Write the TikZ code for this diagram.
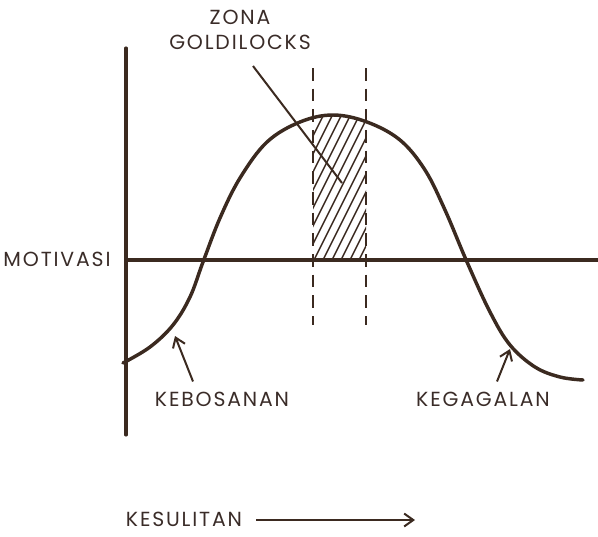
\documentclass[tikz,border=0pt]{standalone}
\usepackage{fontspec}
\setmainfont[LetterSpace=9]{Poppins}
\usepackage{tikz}
\usetikzlibrary{positioning,arrows.meta,calc}
\definecolor{ink}{HTML}{3B2A20}
\definecolor{inktext}{HTML}{3A2C28}

\begin{document}
\begin{tikzpicture}[x=0.75pt,y=-0.75pt,
  axis/.style={draw=ink,line width=2.3pt,line cap=round},
  curve/.style={draw=ink,line width=2.6pt,line cap=round},
  zone/.style={draw=ink,line width=1.8pt,dash pattern=on 9.5pt off 6pt},
  hatch/.style={draw=ink,line width=1.1pt},
  lead/.style={draw=ink,line width=1.5pt},
  arr/.style={-{Straight Barb[length=2.4mm,width=3.4mm]},draw=ink,line width=1.5pt},
  label/.style={text=inktext,font=\fontsize{15.3}{19}\selectfont,inner sep=0pt,align=center}
]
  \useasboundingbox (0,0) rectangle (598,536);
  % axes
  \draw[axis] (126,48) -- (126,435);
  \draw[axis] (126,260) -- (598,260);
  % goldilocks band
  \begin{scope}
    \clip (313,100) rectangle (366,260);
    \clip plot[smooth,tension=0.6] coordinates {(123,363) (150,347) (173,325) (190,297) (203,262) (220,218) (240,178) (267,142) (300,122) (333,115) (367,122) (400,140) (425,170) (445,210) (467,262) (490,312) (510,345) (535,367) (560,377) (583,380)} -- (583,600) -- (123,600) -- cycle;
    \foreach \i in {-14,...,8}
      \draw[hatch] (313+9*\i,262) -- ++(80,-160);
  \end{scope}
  \draw[zone] (313,68) -- (313,325);
  \draw[zone] (366,68) -- (366,325);
  % motivation curve
  \draw[curve] plot[smooth,tension=0.6] coordinates {(123,363) (150,347) (173,325) (190,297) (203,262) (220,218) (240,178) (267,142) (300,122) (333,115) (367,122) (400,140) (425,170) (445,210) (467,262) (490,312) (510,345) (535,367) (560,377) (583,380)};
  % labels
  \node[label] (gold) at (240,30) {ZONA\\GOLDILOCKS};
  \node[label] (motiv) at (57,259) {MOTIVASI};
  \node[label] (bored) at (222,399) {KEBOSANAN};
  \node[label] (fail) at (483,399) {KEGAGALAN};
  \node[label] (hard) at (184,519) {KESULITAN};
  \coordinate (goldtail) at (253,66);
  \coordinate (goldtip) at (342,183);
  \coordinate (boredtip) at (175,336);
  \coordinate (failtip) at (510,349);
  \coordinate (hardtip) at (415,520);
  \draw[lead] (goldtail) -- (goldtip);
  \draw[arr] (bored.north) ++(-29,-10) -- (boredtip);
  \draw[arr] (fail.north) ++(14,-10) -- (failtip);
  \draw[arr] (hard.east) ++(14,1) -- (hardtip);
\end{tikzpicture}
\end{document}
